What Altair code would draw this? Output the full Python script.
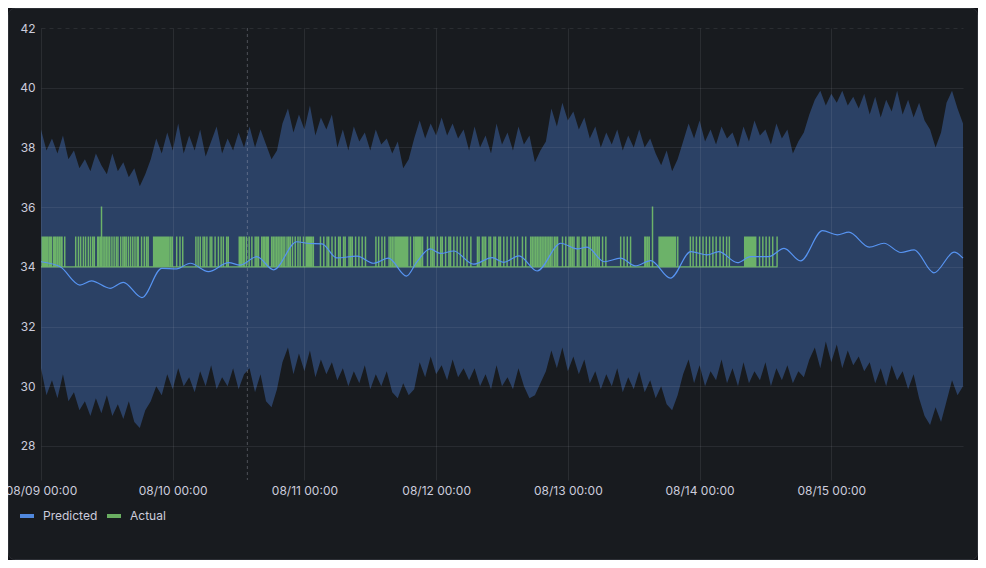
import altair as alt
import pandas as pd

# ---------------- data ----------------
band_hours = list(range(169))  # hours after 08/09 00:00
upper = [38.6, 37.9, 38.3, 37.8, 38.4, 37.6,
         37.9, 37.3, 37.6, 37.2, 37.8,
         37.4, 37.1, 37.8, 37.2, 37.5, 37.0, 37.3,
         36.7, 37.1,
         37.6, 38.3, 37.8,
         38.5, 37.9, 38.8, 37.8, 38.4,
         37.9, 38.6, 37.7, 38.2, 38.7, 37.8, 38.3, 37.9, 38.5, 38.0,
         38.7, 38.0, 38.6, 38.1, 37.6, 37.9,
         38.8, 39.3, 38.5, 39.1, 38.6, 39.4, 38.4, 39.0, 38.6, 39.1,
         38.0, 38.6, 37.9, 38.7, 38.2, 38.5, 37.9, 38.6, 38.1, 38.3,
         37.8, 38.2, 37.3, 37.6, 38.3,
         38.9, 38.3, 38.8, 38.4, 39.0, 38.4, 38.8, 38.3, 38.6,
         37.9, 38.7, 38.0, 38.4, 37.8, 38.8, 38.1, 38.5, 37.9, 38.7, 38.1, 38.4, 37.5, 37.9, 38.2,
         39.3, 38.7, 39.5, 38.9, 39.2, 38.6, 39.0,
         38.3, 38.7, 38.0, 38.5, 38.1, 38.6, 37.9, 38.4, 38.0, 38.6, 38.0, 38.3,
         37.8, 37.4, 37.9, 37.2, 37.6,
         38.2, 38.8, 38.3, 38.9, 38.2, 38.6, 38.1, 38.7, 38.3, 38.5, 38.0, 38.7, 38.2, 38.9, 38.4,
         38.6, 38.1, 38.8, 38.3, 38.6, 37.8, 38.2, 38.5,
         39.1, 39.6,
         39.9, 39.4, 39.8, 39.5, 39.9, 39.4, 39.7, 39.3, 39.8,
         39.1, 39.7, 39.0, 39.6, 39.2, 39.9, 39.1, 39.6, 39.0, 39.5, 38.9,
         38.6, 38.0, 38.5,
         39.5, 39.9, 39.3, 38.8]
lower = [30.6, 29.7, 30.2, 29.6, 30.4, 29.5,
         29.8, 29.2, 29.5, 29.0, 29.6, 29.1,
         29.7, 29.0, 29.4, 28.9, 29.5, 28.8, 28.6,
         29.2, 29.5, 30.0, 29.7,
         30.4, 29.9, 30.6, 30.0, 30.3, 29.8, 30.5, 30.0, 30.7, 29.9, 30.3, 30.0, 30.6, 29.9, 30.4,
         30.6, 29.8, 30.4, 29.5, 29.3, 29.9,
         30.8, 31.3, 30.4, 31.1, 30.5, 31.2, 30.3, 30.9, 30.4, 30.8,
         30.2, 30.6, 30.0, 30.5, 30.1, 30.7, 29.9, 30.4, 30.0, 30.5, 29.8,
         29.6, 30.1, 29.7, 29.9,
         30.8, 30.3, 31.0, 30.4, 30.7, 30.2, 30.9, 30.3, 30.6, 30.2,
         30.6, 30.0, 30.4, 29.9, 30.7, 30.0, 30.3, 29.9, 30.6, 30.0, 29.6, 29.7, 30.1,
         30.5, 31.2, 30.6, 31.3, 30.5, 31.0, 30.4, 30.9,
         30.1, 30.5, 29.9, 30.4, 30.0, 30.6, 29.8, 30.3, 29.9, 30.5, 29.8, 30.2,
         29.6, 30.0, 29.4, 29.2, 29.7,
         30.4, 30.9, 30.1, 30.7, 30.0, 30.5, 30.2, 30.9, 30.1, 30.6, 30.0, 30.8, 30.1, 30.5, 30.2,
         30.8, 30.0, 30.6, 30.2, 30.7, 30.1, 30.5, 30.3,
         30.9, 31.3, 30.6, 31.5, 30.8, 31.4, 30.6, 31.2, 30.7, 31.0, 30.5,
         30.8, 30.1, 30.6, 30.0, 30.7, 30.2, 30.5, 29.9, 30.4,
         29.6, 29.0, 28.7, 29.3, 28.8, 29.5,
         30.2, 29.7, 30.0]

pred_hours = [0, 3.5, 7.1, 9.2, 12.6, 15.0, 18.4, 22.0, 24.7, 27.2, 30.5, 34.2, 36.3, 39.3,
              42.4, 46.6, 48.5, 51.2, 53.9, 57.6, 60.6, 63.3, 66.6, 68.5, 70.9, 72.8, 75.2,
              78.8, 82.2, 84.3, 87.1, 90.4, 94.7, 97.7, 99.5, 102.6, 105.6, 108.3, 111.1,
              114.7, 118.4, 121.4, 123.5, 126.9, 129.3, 132.6, 135.4, 138.4, 142.4, 145.1,
              147.2, 150.9, 153.6, 156.7, 159.1, 162.7, 166.4, 168]
pred_vals = [34.17, 34.0, 33.39, 33.53, 33.28, 33.48, 32.97, 33.95, 33.93, 34.12, 33.84, 34.14,
             34.06, 34.34, 33.90, 34.84, 34.79, 34.77, 34.30, 34.36, 34.12, 34.29, 33.69, 34.17,
             34.6, 34.45, 34.53, 34.09, 34.31, 34.15, 34.37, 33.86, 34.79, 34.6, 34.66, 34.17,
             34.29, 34.03, 34.21, 33.62, 34.51, 34.40, 34.51, 34.14, 34.34, 34.34, 34.62, 34.2,
             35.21, 35.07, 35.16, 34.66, 34.79, 34.48, 34.57, 33.80, 34.49, 34.29]

# Actual readings: base value 34, short readings of 35 at these hours
actual_base = 34
actual_high = 35
pulse_hours = [0.2, 0.4, 0.6, 0.8, 1.0, 1.2, 1.5, 1.7, 1.9, 2.3, 2.5, 2.7, 3.0, 3.3, 3.6, 3.8, 4.3,
               6.3, 6.8, 7.2, 7.7, 8.1, 8.6, 9.0, 9.4, 9.7, 10.3, 10.5, 10.8, 11.3,
               11.6, 11.9, 12.2, 12.5, 12.9, 13.3, 13.7, 14.0, 14.5, 14.9, 15.2, 15.5, 15.9, 16.3,
               16.7, 17.1, 17.5, 17.7, 18.3, 18.8, 19.2, 19.5,
               20.5, 20.7, 20.9, 21.1, 21.3, 21.5, 21.7, 21.9, 22.1, 22.3, 22.5, 22.7, 22.9, 23.1,
               23.3, 23.6, 23.9, 24.7, 25.3, 25.8,
               28.2, 28.6, 29.0, 29.5, 29.8, 30.2, 30.8, 31.1, 31.7, 32.3, 32.8, 33.2, 33.8, 34.1,
               36.1, 36.3, 36.5, 36.8, 37.0, 37.4, 37.9, 38.4, 39.0, 39.3, 39.6, 40.2, 40.5, 40.7,
               41.0, 41.2, 41.4, 42.0, 42.3, 42.6, 42.9, 43.2, 43.5, 43.8, 44.1, 44.4,
               44.8, 45.1, 45.4, 45.8, 46.3, 46.8, 47.2, 47.8, 48.3, 48.5, 48.7, 48.9, 49.1, 49.3,
               49.6, 50.9, 51.5, 52.1, 52.4, 53.0, 53.6, 54.2, 54.5, 55.1, 55.4, 56.1, 56.4, 56.7,
               57.3, 57.9, 58.5, 59.1, 61.0, 61.5, 62.1, 62.6, 63.4, 63.7, 64.0, 64.3,
               64.6, 64.8, 65.0, 65.2, 65.4, 65.6, 65.8, 66.0, 66.2, 66.4, 66.6, 66.8, 67.3, 67.9,
               68.2, 68.4, 68.6, 68.8, 69.0, 69.2, 69.5, 70.4, 71.0, 71.3, 71.6, 72.2, 72.8, 73.1,
               73.7, 74.3, 74.6, 75.2, 75.8, 76.4, 77.0, 77.6, 78.3, 79.5, 79.8, 80.4, 80.7, 81.0,
               81.6, 81.9, 82.5, 82.8, 83.4, 83.7, 84.3, 84.9, 85.6, 86.2, 86.8, 87.7, 88.3,
               89.2, 89.5, 89.8, 90.1, 90.4, 90.7, 91.0, 91.3, 91.6, 91.9, 92.2, 92.5, 92.8, 93.1,
               93.5, 93.8, 94.1, 95.0, 95.6, 96.2, 96.5, 96.8, 97.1, 97.7, 98.0, 98.6, 98.9, 99.2,
               99.8, 100.1, 100.5, 100.8, 101.1, 101.4, 101.7, 102.3, 102.9,
               105.6, 106.2, 106.8, 107.4, 110.0, 110.2, 110.5, 110.8,
               112.6, 112.8, 113.0, 113.2, 113.4, 113.6, 113.8, 114.0, 114.2, 114.4, 114.6, 114.8,
               115.0, 115.2, 115.4, 115.6, 116.0,
               118.3, 118.8, 119.4, 120.0, 120.6, 121.2, 121.8, 122.4, 123.0, 123.7, 124.3, 124.9,
               125.4, 128.2, 128.4, 128.6, 128.8, 129.0, 129.2, 129.4, 129.6, 129.8, 130.0, 130.2,
               130.9, 131.5, 132.1, 132.7, 133.3, 134.1]
spike_hours = [11.0, 111.4]
spike_value = 36
actual_end = 134.2
pulse_len = 0.05

tick_hours = [0, 24, 48, 72, 96, 120, 144]
tick_labels = ["08/09 00:00", "08/10 00:00", "08/11 00:00", "08/12 00:00",
               "08/13 00:00", "08/14 00:00", "08/15 00:00"]
y_ticks = [28, 30, 32, 34, 36, 38, 40, 42]
marker_hours = [37.6]
series_names = ["Predicted", "Actual"]
series_colors = ["#5794f2", "#73bf69"]

# ---------------- tables ----------------
band_df = pd.DataFrame({"h": band_hours, "lo": lower, "hi": upper})
pred_df = pd.DataFrame({"h": pred_hours, "v": pred_vals, "series": "Predicted"})
events = sorted([(t, actual_high) for t in pulse_hours] + [(t, spike_value) for t in spike_hours])
rows = [(0.0, actual_base)]
for t, val in events:
    rows.append((t, val))
    rows.append((t + pulse_len, actual_base))
rows.append((actual_end, actual_base))
act_df = pd.DataFrame(rows, columns=["h", "v"])
act_df["series"] = "Actual"
marker_df = pd.DataFrame({"h": marker_hours})
panel_df = pd.DataFrame({"k": [0]})

FONT = "Inter"
TXT = "#ccccdc"
label_expr = "[" + ",".join("'%s'" % s for s in tick_labels) + "][round(datum.value/24)]"

xscale = alt.Scale(domain=[0, 168], nice=False, zero=False)
yscale = alt.Scale(domain=[26.86, 42], nice=False, zero=False)
xaxis = alt.Axis(values=tick_hours, labelExpr=label_expr, title=None, domain=False, ticks=False,
                 labelPadding=5, labelFlush=False, labelOverlap=False, grid=True,
                 gridColor="#ccccdc", gridOpacity=0.1, labelFont=FONT, labelFontSize=12,
                 labelColor=TXT, zindex=1)
yaxis = alt.Axis(values=y_ticks, title=None, domain=False, ticks=False, labelPadding=6,
                 grid=True, gridColor="#ccccdc", gridOpacity=0.1,
                 gridDash=alt.condition("datum.value == 42", alt.value([4, 4]), alt.value([1, 0])),
                 labelFont=FONT, labelFontSize=12, labelColor=TXT, zindex=1)

panel = alt.Chart(panel_df).mark_rect(cornerRadius=6, fill="#181b1f", stroke="#2c2f35",
                                      strokeWidth=1).encode(
    x=alt.value(-32.5), x2=alt.value(936.5), y=alt.value(-19.5), y2=alt.value(531.5))

band = alt.Chart(band_df).mark_area(color="#2b4165", opacity=1).encode(
    x=alt.X("h:Q", scale=xscale, axis=xaxis),
    y=alt.Y("lo:Q", scale=yscale, axis=yaxis),
    y2="hi:Q")

marker = alt.Chart(marker_df).mark_rule(color="#ccccdc", opacity=0.3, strokeDash=[3, 3],
                                        strokeWidth=1).encode(x="h:Q")

color = alt.Color("series:N", scale=alt.Scale(domain=series_names, range=series_colors),
                  legend=alt.Legend(title=None, orient="none", legendX=-23, legendY=479,
                                    direction="horizontal", symbolType="stroke",
                                    symbolStrokeWidth=4, symbolSize=196, labelFont=FONT,
                                    labelFontSize=12, labelColor=TXT, labelOffset=7,
                                    columnPadding=1, padding=0))

actual = alt.Chart(act_df).mark_line(interpolate="step-after", strokeWidth=1.2,
                                     opacity=0.9).encode(
    x="h:Q", y="v:Q", color=color, order="h:Q")

pred = alt.Chart(pred_df).mark_line(interpolate="monotone", strokeWidth=1.2).encode(
    x="h:Q", y="v:Q", color=color)

chart = alt.layer(panel, band, marker, actual, pred).properties(
    width=922, height=452,
    autosize=alt.AutoSizeParams(type="none"),
    padding={"left": 33, "top": 20, "right": 15, "bottom": 80},
    background="#111217",
).configure_view(stroke=None)

chart.save("out.html", embed_options={"renderer": "svg", "actions": False})
